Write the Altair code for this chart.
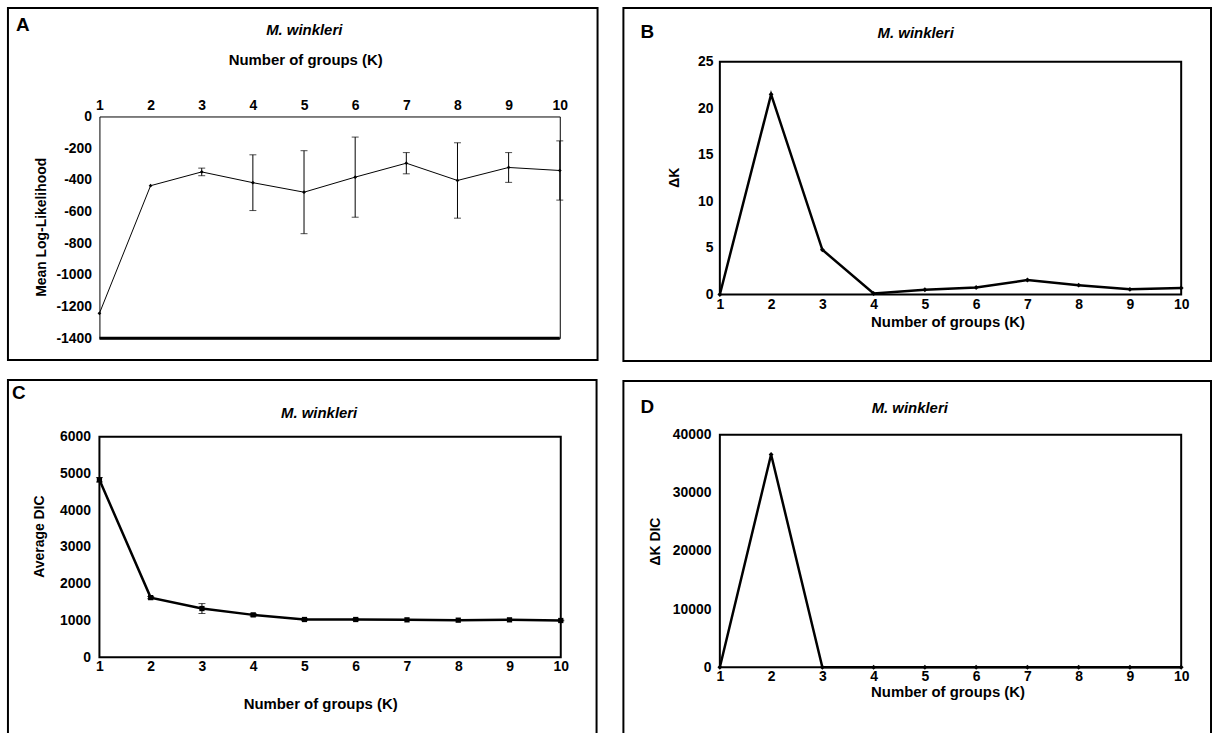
import altair as alt
import pandas as pd

# ---------------- data ----------------
K = [1, 2, 3, 4, 5, 6, 7, 8, 9, 10]
A_mean = [-1243, -437, -350, -418, -478, -383, -295, -404, -322, -341]
A_sd = [0, 0, 24, 176, 262, 253, 67, 238, 94, 187]
B_dk = [0, 21.5, 4.8, 0.1, 0.5, 0.75, 1.55, 1.0, 0.55, 0.7]
C_mean = [4827, 1624, 1327, 1155, 1029, 1029, 1020, 1011, 1020, 1002]
C_sd = [60, 30, 135, 35, 20, 20, 10, 10, 10, 10]
D_dk = [0, 36600, 0, 0, 0, 0, 0, 0, 0, 0]

A_yticks = [0, -200, -400, -600, -800, -1000, -1200, -1400]
B_yticks = [0, 5, 10, 15, 20, 25]
C_yticks = [0, 1000, 2000, 3000, 4000, 5000, 6000]
D_yticks = [0, 10000, 20000, 30000, 40000]

XTITLE = "Number of groups (K)"
SPECIES = "M. winkleri"
FONT = "Liberation Sans, Arial, Helvetica, sans-serif"


def xenc(orient, lp, tx, ty):
    return alt.X("K:Q", scale=alt.Scale(domain=[1, 10], nice=False, zero=False),
                 axis=alt.Axis(orient=orient, values=K, labelPadding=lp, title=XTITLE,
                               titleX=tx, titleY=ty, titleAlign="center", titleBaseline="middle",
                               titleFontSize=15, labelFlush=False, labelOverlap=False,
                               labelExpr="'' + datum.value"))


def ymaker(domain, vals, title, lp, tx, ty):
    def yenc(field):
        return alt.Y(f"{field}:Q", scale=alt.Scale(domain=domain, nice=False, zero=False),
                     axis=alt.Axis(values=vals, labelPadding=lp, title=title, titleX=tx, titleY=ty,
                                   titleAngle=270, titleAlign="center", titleBaseline="middle",
                                   titleFontSize=14, labelFlush=False, labelOverlap=False,
                                   labelExpr="'' + datum.value"))
    return yenc


def frame(w, h, l, t, r, b, gap):
    one = pd.DataFrame({"f": [0]})
    box = alt.Chart(one).mark_rect(fill="transparent", stroke="black", strokeWidth=2).encode(
        x=alt.value(l), x2=alt.value(w + r), y=alt.value(t), y2=alt.value(h + b))
    # invisible extender that sets the gap below this panel
    ext = alt.Chart(one).mark_rect(fill="transparent").encode(
        x=alt.value(0), x2=alt.value(1), y=alt.value(h + b), y2=alt.value(h + b + gap))
    return [box, ext]


def text(txt, x, y, size, italic=False):
    return alt.Chart(pd.DataFrame({"t": [txt]})).mark_text(
        font=FONT, fontSize=size, fontWeight="bold",
        fontStyle="italic" if italic else "normal",
        align="center", baseline="middle", color="black").encode(
        text="t:N", x=alt.value(x), y=alt.value(y))


def panel(df, w, h, xe, yenc, line_w, shape, msize, letter, lpos, spos,
          fr, errbars, stroke_w, extra=None):
    base = alt.Chart(df)
    layers = frame(w, h, *fr)
    if errbars:
        eb = base.transform_filter("datum.sd > 0")
        layers.append(eb.mark_rule(color="black", strokeWidth=1).encode(
            x=xe, y=yenc("lo"), y2="hi:Q"))
        layers.append(eb.mark_tick(orient="horizontal", size=7, thickness=1, color="black").encode(
            x=xe, y=yenc("lo")))
        layers.append(eb.mark_tick(orient="horizontal", size=7, thickness=1, color="black").encode(
            x=xe, y=yenc("hi")))
    layers.append(base.mark_line(color="black", strokeWidth=line_w).encode(x=xe, y=yenc("mean")))
    layers.append(base.mark_point(shape=shape, filled=True, size=msize, color="black", opacity=1).encode(
        x=xe, y=yenc("mean")))
    if extra is not None:
        layers.append(extra)
    layers.append(text(letter, lpos[0], lpos[1], 19))
    layers.append(text(SPECIES, spos[0], spos[1], 15, italic=True))
    return alt.layer(*layers).properties(
        width=w, height=h,
        view=alt.ViewBackground(stroke="black", strokeWidth=stroke_w))


def spacer():
    return alt.Chart(pd.DataFrame({"f": [0]})).mark_point(opacity=0, size=1).encode(
        x=alt.value(0), y=alt.value(0)).properties(
        width=1, height=1, view=alt.ViewBackground(stroke="transparent"))


# ---------------- panel A ----------------
wA, hA = 463, 223
dfA = pd.DataFrame({"K": K, "mean": A_mean, "sd": A_sd})
dfA["lo"] = dfA["mean"] - dfA["sd"]
dfA["hi"] = dfA["mean"] + dfA["sd"]
xA = xenc("top", 4, 207, -57)
yA = ymaker([-1400, 0], A_yticks, "Mean Log-Likelihood", 8, -58, 111)
bottomA = alt.Chart(pd.DataFrame({"f": [0]})).mark_rule(color="black", strokeWidth=3).encode(
    x=alt.value(0), x2=alt.value(wA), y=alt.value(hA))
panelA = panel(dfA, wA, hA, xA, yA, 1, "diamond", 14, "A", (-77, -92), (206, -87),
               (-92, -109, 38, 22, 17), True, 1, extra=bottomA)

# ---------------- panel B ----------------
wB, hB = 464, 234
dfB = pd.DataFrame({"K": K, "mean": B_dk})
xB = xenc("bottom", 3, 229, 27)
yB = ymaker([0, 25], B_yticks, "ΔK", 7, -46, 116)
panelB = panel(dfB, wB, hB, xB, yB, 2.5, "diamond", 24, "B", (-73, -30), (197, -29),
               (-97, -54, 30, 67, 17), False, 2)

# ---------------- panel C ----------------
wC, hC = 464, 222
dfC = pd.DataFrame({"K": K, "mean": C_mean, "sd": C_sd})
dfC["lo"] = dfC["mean"] - dfC["sd"]
dfC["hi"] = dfC["mean"] + dfC["sd"]
xC = xenc("bottom", 2, 222, 46)
yC = ymaker([0, 6000], C_yticks, "Average DIC", 9, -60, 100)
panelC = panel(dfC, wC, hC, xC, yC, 2.5, "square", 28, "C", (-81, -44), (221, -24),
               (-92, -57, 36, 86, 0), True, 2)

# ---------------- panel D ----------------
wD, hD = 464, 234
dfD = pd.DataFrame({"K": K, "mean": D_dk})
xD = xenc("bottom", 2, 229, 24)
yD = ymaker([0, 40000], D_yticks, "ΔK DIC", 9, -65, 107)
panelD = panel(dfD, wD, hD, xD, yD, 2.5, "diamond", 24, "D", (-73, -28), (191, -27),
               (-97, -54, 30, 76, 0), False, 2)

chart = alt.hconcat(
    alt.vconcat(spacer(), panelA, panelC, spacing=0),
    alt.vconcat(spacer(), panelB, panelD, spacing=0),
    spacing=22,
).properties(
    padding={"left": 6, "top": 1, "right": 0, "bottom": 0},
    background="white",
).configure_axis(
    grid=False, domain=False, ticks=False,
    labelFont=FONT, labelFontSize=14, labelFontWeight="bold", labelColor="black",
    titleFont=FONT, titleFontWeight="bold", titleColor="black",
)

chart.save("out.html", embed_options={"renderer": "svg", "actions": False})
